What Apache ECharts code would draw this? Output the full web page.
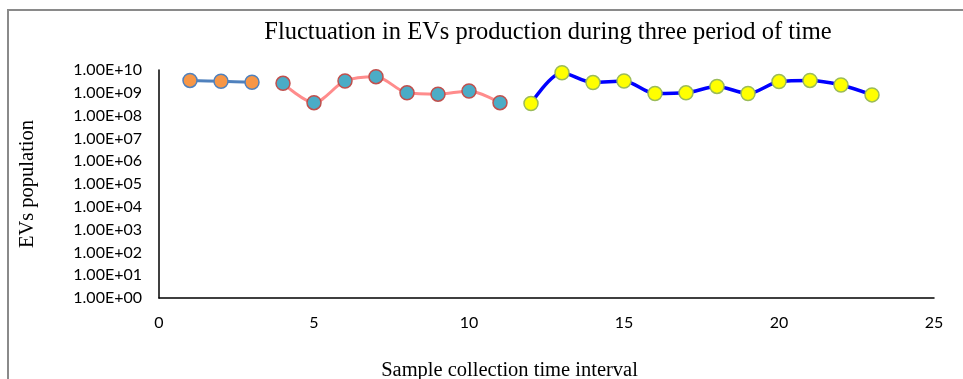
<!DOCTYPE html>
<html>
<head>
<meta charset="utf-8">
<script src="https://cdn.jsdelivr.net/npm/echarts@6/dist/echarts.min.js"></script>
<style>html,body{margin:0;padding:0;background:#fff}#c{width:963px;height:379px}</style>
</head>
<body>
<div id="c"></div>
<script>
const xTicks = [0, 5, 10, 15, 20, 25];
const period1X = [1, 2, 3];
const period1Y = [3.5e9, 3.2e9, 2.9e9];
const period2X = [4, 5, 6, 7, 8, 9, 10, 11];
const period2Y = [2.6e9, 3.7e8, 3.3e9, 5.1e9, 1.0e9, 8.7e8, 1.2e9, 3.7e8];
const period3X = [12, 13, 14, 15, 16, 17, 18, 19, 20, 21, 22, 23];
const period3Y = [3.4e8, 7.6e9, 2.8e9, 3.3e9, 9.3e8, 1.0e9, 1.9e9, 9.3e8, 3.1e9, 3.5e9, 2.2e9, 8.1e8];

function pairs(xs, ys) { return xs.map((x, i) => [x, ys[i]]); }
function sci(v) {
  const e = Math.round(Math.log10(v));
  return '1.00E+' + (e < 10 ? '0' + e : '' + e);
}
const chart = echarts.init(document.getElementById('c'), null, {renderer: 'canvas'});
const labelFont = {fontFamily: 'Lato, "Open Sans", sans-serif', fontSize: 16, color: '#000'};
chart.setOption({
  animation: false,
  backgroundColor: '#fff',
  title: {
    text: 'Fluctuation in EVs production during three period of time',
    left: 543, top: 15, textAlign: 'center',
    textStyle: {fontFamily: '"Liberation Serif", serif', fontSize: 24.5, fontWeight: 'normal', color: '#000'}
  },
  graphic: [{
    type: 'polyline', silent: true,
    shape: {points: [[8, 379], [8, 10], [963, 10]]},
    style: {stroke: '#8a8a8a', lineWidth: 2, fill: null}
  }],
  grid: {left: 159, right: 29, top: 70, bottom: 81, outerBoundsMode: 'none', containLabel: false},
  xAxis: {
    type: 'value', min: xTicks[0], max: xTicks[xTicks.length - 1], interval: 5,
    name: 'Sample collection time interval', nameLocation: 'middle', nameGap: 62,
    nameTextStyle: {fontFamily: '"Liberation Serif", serif', fontSize: 20.5, color: '#000', padding: [0, 74, 0, 0]},
    axisLine: {lineStyle: {color: '#000', width: 1.5}},
    axisTick: {show: false},
    splitLine: {show: false},
    axisLabel: Object.assign({margin: 17}, labelFont)
  },
  yAxis: {
    type: 'log', logBase: 10, min: 1, max: 1e10, interval: 1,
    name: 'EVs population', nameLocation: 'middle', nameGap: 121, nameRotate: 90,
    nameTextStyle: {fontFamily: '"Liberation Serif", serif', fontSize: 20.5, color: '#000'},
    axisLine: {show: true, lineStyle: {color: '#000', width: 1.5}},
    axisTick: {show: false},
    splitLine: {show: false},
    axisLabel: Object.assign({margin: 17, formatter: sci}, labelFont)
  },
  series: [
    {
      type: 'line', data: pairs(period1X, period1Y), smooth: 0.3,
      lineStyle: {color: '#4f81bd', width: 3},
      symbol: 'circle', symbolSize: 14,
      itemStyle: {color: '#f79646', borderColor: '#4f81bd', borderWidth: 1.5}
    },
    {
      type: 'line', data: pairs(period2X, period2Y), smooth: 0.3,
      lineStyle: {color: '#ff8c8c', width: 3},
      symbol: 'circle', symbolSize: 14,
      itemStyle: {color: '#4bacc6', borderColor: '#c0504d', borderWidth: 1.5}
    },
    {
      type: 'line', data: pairs(period3X, period3Y), smooth: 0.3,
      lineStyle: {color: '#0000ff', width: 3.5},
      symbol: 'circle', symbolSize: 14,
      itemStyle: {color: '#ffff00', borderColor: '#9bbb59', borderWidth: 1.5}
    }
  ]
});
</script>
</body>
</html>
